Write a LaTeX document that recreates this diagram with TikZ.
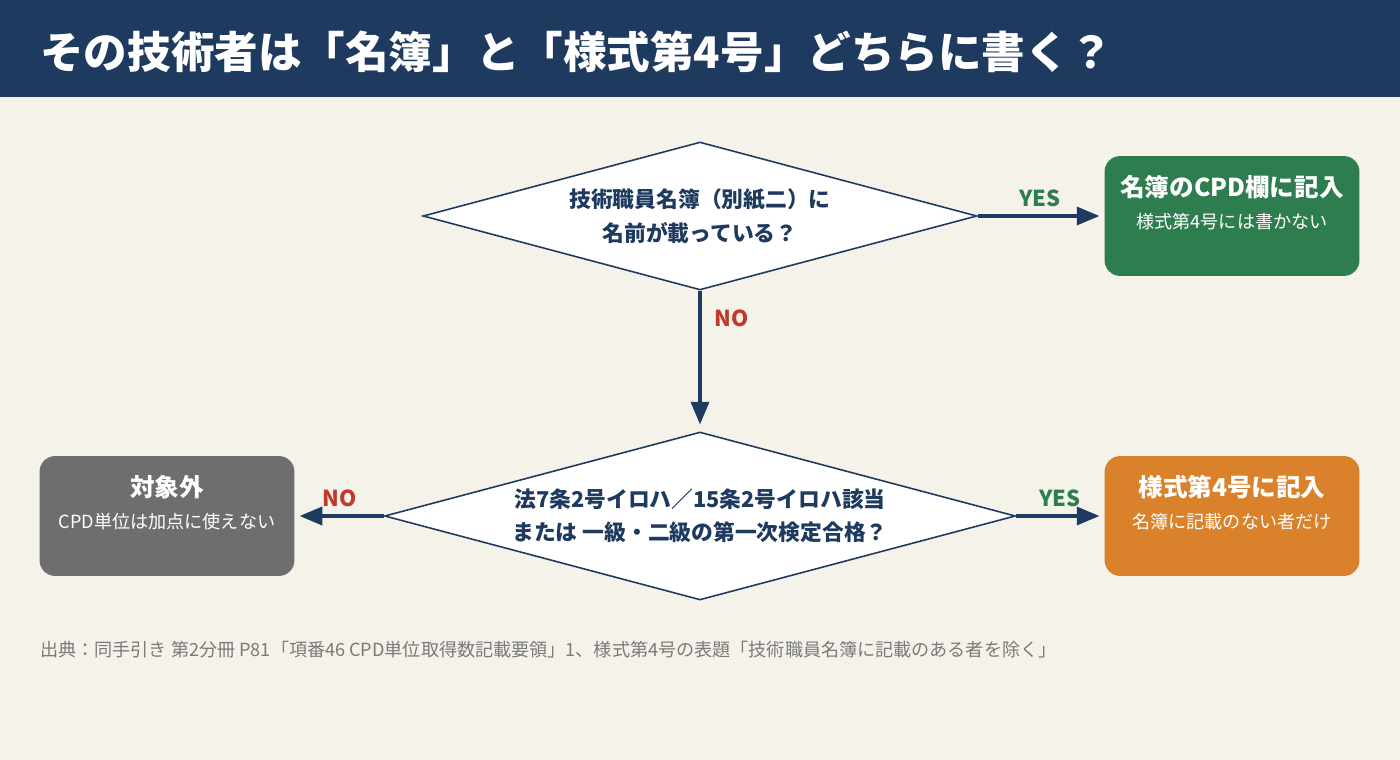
\documentclass[tikz,border=0pt]{standalone}
\usepackage{fontspec}
\setmainfont{Noto Sans CJK JP}
\usepackage{xcolor}
\usetikzlibrary{shapes.geometric}
\usetikzlibrary{arrows}
\definecolor{navy}{HTML}{1F3A5F}
\definecolor{paper}{HTML}{F5F2EA}
\definecolor{okgreen}{HTML}{2E7D4F}
\definecolor{okorange}{HTML}{D9822B}
\definecolor{outgray}{HTML}{6E6E6E}
\definecolor{nored}{HTML}{C0392B}
\definecolor{notegray}{HTML}{7A7A7A}
\newcommand{\hbig}{\fontsize{24.8}{28}\selectfont\bfseries}
\newcommand{\hmid}{\fontsize{14}{16}\selectfont\bfseries}
\newcommand{\hsmall}{\fontsize{10.3}{12}\selectfont}

\tikzset{
  ask/.style = {diamond, draw = navy, line width = 0.9pt, fill = white, inner sep = 0pt,
                align = center, text = navy, font = \fontsize{12.4}{19}\selectfont\bfseries},
  result/.style = {rounded corners = 9pt, minimum width = 5.1cm, minimum height = 2.4cm,
                   inner sep = 0pt},
  flow/.style = {-triangle 45, draw = navy, line width = 2pt},
  yes/.style = {text = okgreen, font = \fontsize{12.5}{14}\selectfont\bfseries},
  no/.style = {text = nored, font = \fontsize{12.5}{14}\selectfont\bfseries}
}

\begin{document}
\begin{tikzpicture}[x = 0.02cm, y = -0.02cm]
            \useasboundingbox (0, 0) rectangle (1400, 760);
            \fill[paper] (0, 0) rectangle (1400, 760);
            \fill[navy] (0, 0) rectangle (1400, 97);
            \node[anchor = west, text = white, font = \hbig, inner sep = 0pt] (title) at (40, 52)
                {その技術者は「名簿」と「様式第4号」どちらに書く？};

            % questions
            \node[ask, minimum width = 11.08cm, minimum height = 2.96cm, aspect = 3.74]
                (q1) at (700, 216) {技術職員名簿（別紙二）に\\名前が載っている？};
            \node[ask, minimum width = 12.62cm, minimum height = 3.36cm, aspect = 3.76]
                (q2) at (700, 516) {法7条2号イロハ／15条2号イロハ該当\\または 一級・二級の第一次検定合格？};

            % answers
            \node[result, fill = okgreen] (meibo) at (1232, 216) {};
            \node[text = white, font = \hmid] (meiboT) at (1232, 187) {名簿のCPD欄に記入};
            \node[text = white, font = \hsmall] (meiboS) at (1232, 222) {様式第4号には書かない};
            \node[result, fill = okorange] (yoshiki) at (1232, 516) {};
            \node[text = white, font = \hmid] (yoshikiT) at (1232, 487) {様式第4号に記入};
            \node[text = white, font = \hsmall] (yoshikiS) at (1232, 522) {名簿に記載のない者だけ};
            \node[result, fill = outgray] (gai) at (167, 516) {};
            \node[text = white, font = \hmid] (gaiT) at (167, 487) {対象外};
            \node[text = white, font = \hsmall] (gaiS) at (167, 522) {CPD単位は加点に使えない};

            % connectors
            \draw[flow] (q1.east) -- ([xshift = -0.1cm]meibo.west);
            \draw[flow] (q1.south) -- ([yshift = 0.14cm]q2.north);
            \draw[flow] (q2.east) -- ([xshift = -0.1cm]yoshiki.west);
            \draw[flow] (q2.west) -- ([xshift = 0.1cm]gai.east);
            \node[yes] (y1) at (1040, 198) {YES};
            \node[no] (n1) at (732, 318) {NO};
            \node[yes] (y2) at (1060, 498) {YES};
            \node[no] (n2) at (340, 498) {NO};

            \node[anchor = west, text = notegray, font = \hsmall, inner sep = 0pt] (src) at (40, 650)
                {出典：同手引き 第2分冊 P81「項番46 CPD単位取得数記載要領」1、様式第4号の表題「技術職員名簿に記載のある者を除く」};
        \end{tikzpicture}
\end{document}
